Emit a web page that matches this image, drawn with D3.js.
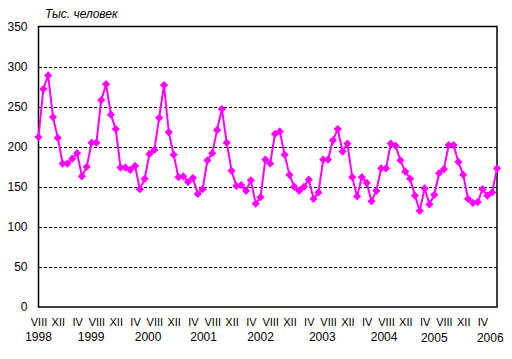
<!DOCTYPE html>
<html>
<head>
<meta charset="utf-8">
<script src="https://cdn.jsdelivr.net/npm/d3@7"></script>
<style>
  body { margin: 0; background: #fff; }
  text { font-family: "Liberation Sans", Arial, sans-serif; fill: #000; }
</style>
</head>
<body>
<div id="chart"></div>
<script>
// monthly values, thousand people, Aug 1998 .. Jul 2006
const values = [
    212, 272, 289, 237, 211, 179, 179, 185, 192, 163, 175, 205,
    205, 258, 278, 240, 222, 174, 174, 171, 176, 147, 160, 191,
    196, 236, 277, 218, 190, 162, 163, 156, 161, 141, 147, 183,
    192, 221, 247, 205, 170, 151, 152, 145, 158, 129, 137, 184,
    179, 216, 219, 190, 165, 150, 145, 150, 159, 135, 143, 184,
    184, 208, 222, 194, 204, 162, 138, 162, 155, 132, 145, 173,
    173, 204, 201, 183, 169, 160, 139, 120, 148, 128, 140, 167,
    172, 202, 202, 181, 165, 135, 130, 131, 147, 139, 143, 173
];
const monthLabels = ["VIII", "XII", "IV"]; // every 4th month, starting Aug
const years = ["1998", "1999", "2000", "2001", "2002", "2003", "2004", "2005", "2006"];
const yearAt = [0, 10.9, 22.7, 34.2, 46, 58.8, 71.6, 82, 93.6]; // month index under which year text sits
const yTicks = [0, 50, 100, 150, 200, 250, 300, 350];

const width = 512, height = 359;
const plotLeft = 38.5, plotRight = 497, plotTop = 26.5, plotBottom = 307;

const svg = d3.select("#chart").append("svg")
    .attr("width", width)
    .attr("height", height);

const x = d3.scaleLinear().domain([0, values.length - 1]).range([plotLeft, plotRight]);
const y = d3.scaleLinear().domain([0, 350]).range([plotBottom, plotTop]);

// dashed grid
svg.append("g")
    .selectAll("line")
    .data(yTicks.filter(d => d > 0 && d < 350))
    .enter()
    .append("line")
    .attr("x1", plotLeft).attr("x2", plotRight)
    .attr("y1", d => Math.round(y(d)) + 0.5)
    .attr("y2", d => Math.round(y(d)) + 0.5)
    .attr("stroke", "#000")
    .attr("stroke-dasharray", "3,2")
    .attr("shape-rendering", "crispEdges");

// y axis labels
const yAxis = svg.append("g")
    .attr("transform", `translate(${plotLeft},0)`)
    .call(d3.axisLeft(y).tickValues(yTicks).tickSize(0).tickPadding(11));
yAxis.select(".domain").remove();
yAxis.selectAll("text")
    .attr("font-size", 12)
    .attr("font-family", "Liberation Sans, Arial, sans-serif");

// month labels
const monthIdx = d3.range(0, values.length, 4);
const xAxis = svg.append("g")
    .attr("transform", `translate(0,${plotBottom})`)
    .call(d3.axisBottom(x).tickValues(monthIdx).tickSize(0).tickPadding(11)
        .tickFormat(i => monthLabels[(i / 4) % 3]));
xAxis.select(".domain").remove();
xAxis.selectAll("text")
    .attr("font-size", 11)
    .attr("font-family", "Liberation Sans, Arial, sans-serif");

// year labels
svg.append("g")
    .selectAll("text")
    .data(years)
    .enter()
    .append("text")
    .attr("x", (d, i) => x(yearAt[i]))
    .attr("y", (d, i) => i >= 7 ? 342 : 341)
    .attr("text-anchor", "middle")
    .attr("font-size", 12)
    .text(d => d);

// frame
svg.append("rect")
    .attr("x", plotLeft).attr("y", plotTop)
    .attr("width", plotRight - plotLeft).attr("height", plotBottom - plotTop)
    .attr("fill", "none")
    .attr("stroke", "#000")
    .attr("stroke-width", 1.5);

// series
const line = d3.line().x((d, i) => x(i)).y(d => y(d));
svg.append("path")
    .datum(values)
    .attr("d", line)
    .attr("fill", "none")
    .attr("stroke", "#ff00ff")
    .attr("stroke-width", 2);

const diamond = d3.symbol().type(d3.symbolSquare).size(34);
svg.append("g")
    .selectAll("path")
    .data(values)
    .enter()
    .append("path")
    .attr("d", diamond)
    .attr("transform", (d, i) => `translate(${x(i)},${y(d)}) rotate(45)`)
    .attr("fill", "#ff00ff");

// unit title
svg.append("text")
    .attr("x", 45)
    .attr("y", 18)
    .attr("font-size", 12)
    .attr("font-style", "italic")
    .text("Тыс. человек");
</script>
</body>
</html>
